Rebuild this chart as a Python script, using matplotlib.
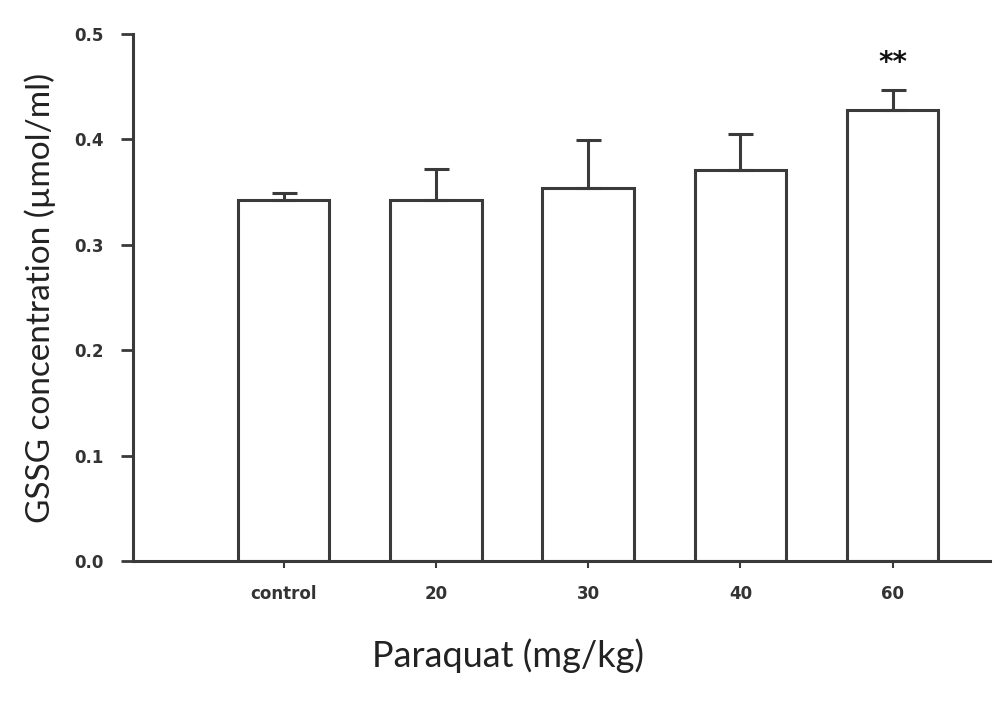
import matplotlib.pyplot as plt
import numpy as np

# data
categories = ['control', '20', '30', '40', '60']
gssg_mean = [0.342, 0.342, 0.354, 0.371, 0.428]
gssg_err = [0.007, 0.030, 0.045, 0.034, 0.019]
significance = ['', '', '', '', '**']

LINE_COLOR = '#3a3a3a'

fig = plt.figure(figsize=(10, 7.22), dpi=100)
ax = fig.add_axes([0.133, 0.223, 0.857, 0.73])

x = np.arange(len(categories))
ax.bar(x, gssg_mean, width=0.6, facecolor='white', edgecolor=LINE_COLOR, linewidth=2.2)
ax.errorbar(x, gssg_mean, yerr=[np.zeros(len(x)), gssg_err], fmt='none',
            ecolor=LINE_COLOR, elinewidth=2.2, capsize=9, capthick=2.2)

for xi, m, e, s in zip(x, gssg_mean, gssg_err, significance):
    if s:
        ax.text(xi, m + e + 0.012, s, ha='center', va='bottom',
                fontsize=20, fontweight='bold', color='#111111')

ax.set_xlim(-0.99, 4.64)
ax.set_ylim(0, 0.5)
ax.set_yticks([0.0, 0.1, 0.2, 0.3, 0.4, 0.5])
ax.set_yticklabels(['0.0', '0.1', '0.2', '0.3', '0.4', '0.5'])
ax.set_xticks(x)
ax.set_xticklabels(categories)

for spine in ['top', 'right']:
    ax.spines[spine].set_visible(False)
for spine in ['left', 'bottom']:
    ax.spines[spine].set_color(LINE_COLOR)
    ax.spines[spine].set_linewidth(2.2)

ax.tick_params(axis='y', direction='out', length=9, width=2, color=LINE_COLOR,
               labelsize=12, labelcolor='#333333', pad=12)
ax.tick_params(axis='x', direction='out', length=5, width=1.5, color=LINE_COLOR,
               labelsize=12, labelcolor='#333333', pad=12)
for lab in ax.get_xticklabels() + ax.get_yticklabels():
    lab.set_fontweight('bold')

ax.set_ylabel('GSSG concentration (µmol/ml)', fontsize=24, family='Lato',
              color='#222222')
ax.yaxis.set_label_coords(-0.09, 0.5)
ax.set_xlabel('Paraquat (mg/kg)', fontsize=26, family='Lato',
              color='#222222')
ax.xaxis.set_label_coords(0.437, -0.147)

fig.savefig('out.png', dpi=100)
